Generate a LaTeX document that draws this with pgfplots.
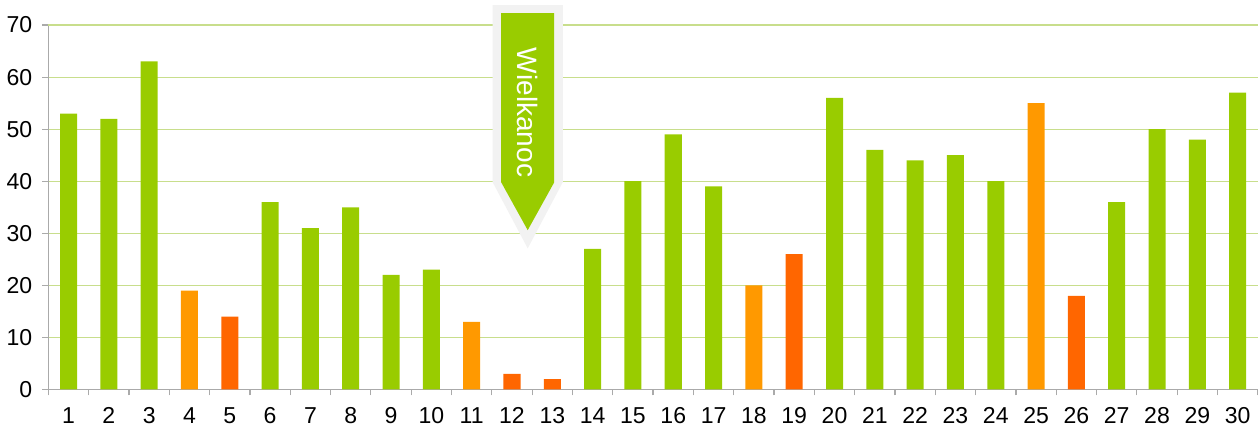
\documentclass[border=0pt]{standalone}
\usepackage{pgfplots}
\pgfplotsset{compat=1.18}
\usepackage{fontspec}
\setmainfont{Liberation Sans}
\definecolor{cgreen}{RGB}{153,204,0}
\definecolor{corange}{RGB}{255,153,0}
\definecolor{cred}{RGB}{255,102,0}
\definecolor{cgrid}{RGB}{200,222,140}
\definecolor{caxis}{RGB}{170,170,170}
\definecolor{cbox}{RGB}{242,242,242}
\begin{document}
\begin{tikzpicture}
\begin{axis}[
  scale only axis,
  width=604pt, height=182pt,
  xmin=0.5, xmax=30.5, ymin=0, ymax=70,
  ybar, bar width=8.5pt,
  xtick={1,...,30},
  minor xtick={0.5,1.5,...,30.5},
  ytick={0,10,...,70},
  axis x line*=bottom, axis y line*=left,
  axis line style={draw=caxis,-,line width=0.8pt},
  ymajorgrids, major grid style={draw=cgrid, line width=0.6pt},
  tick align=outside,
  xtick pos=bottom, ytick pos=left,
  major x tick style={draw=none},
  minor x tick style={draw=caxis, line width=0.6pt},
  minor tick length=3pt,
  major y tick style={draw=caxis, line width=0.6pt},
  major tick length=3pt,
  /pgf/number format/assume math mode=true,
  tick label style={font=\fontsize{11.5}{13}\selectfont, text=black},
  xticklabel style={yshift=-2.5pt},
  yticklabel style={xshift=-1.5pt},
  clip=false,
]
\addplot[fill=cgreen, draw=none, bar shift=0pt] coordinates {
(1,53) (2,52) (3,63) (6,36) (7,31) (8,35) (9,22) (10,23) (14,27) (15,40) (16,49) (17,39)
(20,56) (21,46) (22,44) (23,45) (24,40) (27,36) (28,50) (29,48) (30,57)};
\addplot[fill=corange, draw=none, bar shift=0pt] coordinates {
(4,19) (11,13) (18,20) (25,55)};
\addplot[fill=cred, draw=none, bar shift=0pt] coordinates {
(5,14) (12,3) (13,2) (19,26) (26,18)};
\draw[cgrid, line width=1.2pt] (axis cs:0.5,70) -- (axis cs:30.5,70);
% callout
\path ([yshift=2.5pt]axis cs:12.39,73.85) -- (axis cs:12.39,73.85);
\fill[cbox] ([xshift=-17.5pt]axis cs:12.39,73.85) -- ([xshift=17.5pt]axis cs:12.39,73.85)
  -- ([xshift=17.5pt]axis cs:12.39,39.8) -- (axis cs:12.39,27.1)
  -- ([xshift=-17.5pt]axis cs:12.39,39.8) -- cycle;
\fill[cgreen] ([xshift=-13.25pt]axis cs:12.39,72.3) -- ([xshift=13.25pt]axis cs:12.39,72.3)
  -- ([xshift=13.25pt]axis cs:12.39,39.8) -- (axis cs:12.39,30.6)
  -- ([xshift=-13.25pt]axis cs:12.39,39.8) -- cycle;
\node[rotate=-90, text=white, font=\fontsize{14}{16}\selectfont, inner sep=0pt] at (axis cs:12.39,53.2) {Wielkanoc};
\end{axis}
\end{tikzpicture}
\end{document}
